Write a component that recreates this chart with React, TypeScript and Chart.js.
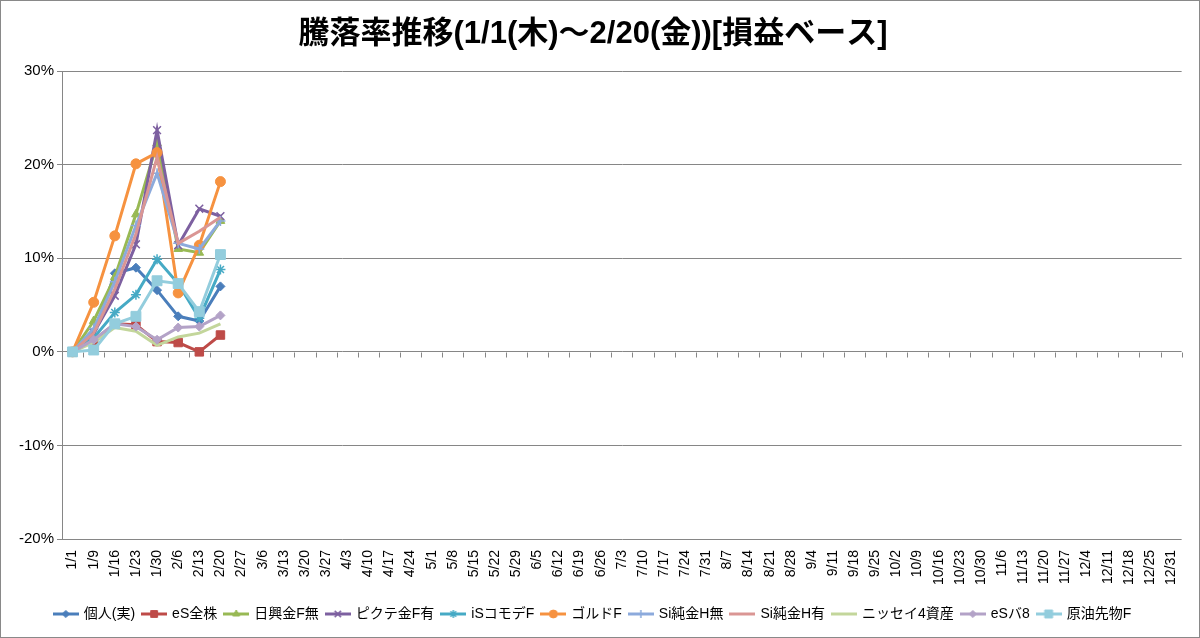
import { useEffect, useRef } from "react"
import { Chart, registerables, type ChartConfiguration, type Plugin } from "chart.js"
import { drawPoint } from "chart.js/helpers"

Chart.register(...registerables)

const FONT = "'Liberation Sans', 'Noto Sans CJK JP', sans-serif"

// weekly dates on the x axis
const dates = [
  "1/1", "1/9", "1/16", "1/23", "1/30", "2/6", "2/13", "2/20", "2/27",
  "3/6", "3/13", "3/20", "3/27", "4/3", "4/10", "4/17", "4/24", "5/1",
  "5/8", "5/15", "5/22", "5/29", "6/5", "6/12", "6/19", "6/26", "7/3",
  "7/10", "7/17", "7/24", "7/31", "8/7", "8/14", "8/21", "8/28", "9/4",
  "9/11", "9/18", "9/25", "10/2", "10/9", "10/16", "10/23", "10/30", "11/6",
  "11/13", "11/20", "11/27", "12/4", "12/11", "12/18", "12/25", "12/31",
]

const yTicks = [-20, -10, 0, 10, 20, 30]

// values in %, 1/1 .. 2/20
const kojin = [0, 1.8, 8.4, 9.0, 6.6, 3.8, 3.3, 7.0]
const esZenkabu = [0, 1.2, 3.0, 2.9, 1.1, 1.0, 0.0, 1.8]
const nikkoKinNashi = [0, 3.3, 8.0, 14.7, 22.3, 11.0, 10.6, 14.0]
const picteKinAri = [0, 2.0, 6.0, 11.5, 23.7, 11.4, 15.3, 14.5]
const isCommodity = [0, 1.5, 4.2, 6.1, 9.9, 7.3, 3.6, 8.8]
const goldF = [0, 5.3, 12.4, 20.1, 21.3, 6.3, 11.4, 18.2]
const siKinHNashi = [0, 2.5, 7.5, 13.5, 19.1, 11.6, 11.0, 14.0]
const siKinHAri = [0, 2.0, 6.7, 12.6, 20.8, 11.6, 12.9, 14.4]
const nissay4 = [0, 1.0, 2.6, 2.2, 0.7, 1.6, 2.0, 3.0]
const esBal8 = [0, 1.3, 3.0, 2.7, 1.3, 2.6, 2.7, 3.9]
const crudeOilF = [0, 0.2, 3.0, 3.8, 7.6, 7.3, 4.3, 10.4]

const seriesNames = [
  "個人(実)", "eS全株", "日興金F無", "ピクテ金F有", "iSコモデF", "ゴルドF",
  "Si純金H無", "Si純金H有", "ニッセイ4資産", "eSバ8", "原油先物F",
]
const seriesValues = [
  kojin, esZenkabu, nikkoKinNashi, picteKinAri, isCommodity, goldF,
  siKinHNashi, siKinHAri, nissay4, esBal8, crudeOilF,
]
const seriesColors = [
  "#4A7EBB", "#BE4B48", "#98B954", "#7D60A0", "#46AAC5", "#F69240",
  "#8CAADC", "#DA9694", "#C3D69B", "#B3A2C7", "#93CDDD",
]
const markerStyles = [
  "rectRot", "rect", "triangle", "crossRot", "star", "circle",
  "cross", "circle", "circle", "rectRot", "rect",
]
const markerSizes = [4.5, 6, 5, 5.5, 5, 5, 5, 0, 0, 4.5, 7]

const isStroked = (s: string) => s === "cross" || s === "star" || s === "crossRot"

// tick marks hanging under the 0% line, between the categories
const zeroAxisTicks: Plugin = {
  id: "zeroAxisTicks",
  beforeDatasetsDraw(chart) {
    const { ctx } = chart
    const xs = chart.scales.x
    const ys = chart.scales.y
    const y0 = Math.round(ys.getPixelForValue(0)) + 0.5
    const step = (xs.right - xs.left) / dates.length
    ctx.save()
    ctx.strokeStyle = "#868686"
    ctx.lineWidth = 1
    ctx.beginPath()
    for (let i = 1; i <= dates.length; i++) {
      const px = Math.round(xs.left + i * step) + 0.5
      ctx.moveTo(px, y0)
      ctx.lineTo(px, y0 + 5)
    }
    ctx.stroke()
    ctx.restore()
  },
}

function legendSample(i: number) {
  const c = document.createElement("canvas")
  c.width = 26
  c.height = 12
  const g = c.getContext("2d")!
  g.strokeStyle = seriesColors[i]
  g.lineWidth = 3
  g.beginPath()
  g.moveTo(0, 6)
  g.lineTo(26, 6)
  g.stroke()
  if (markerSizes[i] > 0) {
    g.fillStyle = seriesColors[i]
    g.lineWidth = isStroked(markerStyles[i]) ? 1.5 : 1
    drawPoint(g, { pointStyle: markerStyles[i] as any, radius: markerSizes[i] * 0.8, rotation: 0, borderWidth: 1 }, 13, 6)
  }
  return c
}

export default function App() {
  const chartRef = useRef<HTMLCanvasElement>(null)
  const chartInstance = useRef<Chart | null>(null)

  useEffect(() => {
    if (!chartRef.current) return
    if (chartInstance.current) chartInstance.current.destroy()
    const ctx = chartRef.current.getContext("2d")
    if (!ctx) return

    const samples = seriesNames.map((_, i) => legendSample(i))
    const n = seriesNames.length

    const config: ChartConfiguration<"line"> = {
      type: "line",
      data: {
        labels: dates,
        datasets: seriesNames.map((name, i) => ({
          label: name,
          data: seriesValues[i],
          borderColor: seriesColors[i],
          backgroundColor: seriesColors[i],
          borderWidth: 3,
          pointStyle: markerStyles[i] as any,
          pointRadius: markerSizes[i],
          pointHoverRadius: markerSizes[i],
          pointBackgroundColor: seriesColors[i],
          pointBorderColor: seriesColors[i],
          pointBorderWidth: isStroked(markerStyles[i]) ? 1.5 : 1,
          tension: 0,
          fill: false,
          order: n - i,
        })),
      },
      options: {
        responsive: false,
        animation: false,
        devicePixelRatio: 1,
        layout: { padding: { left: 0, right: 14, top: 0, bottom: 6 } },
        plugins: {
          title: {
            display: true,
            text: "騰落率推移(1/1(木)～2/20(金))[損益ベース]",
            color: "#000",
            font: { family: FONT, size: 31, weight: "bold" },
            padding: { top: 15, bottom: 18 },
          },
          legend: {
            position: "bottom",
            labels: {
              usePointStyle: true,
              pointStyleWidth: 22,
              color: "#000",
              font: { family: FONT, size: 14 },
              padding: 8,
              generateLabels: () =>
                seriesNames.map((name, i) => ({
                  text: name,
                  pointStyle: samples[i] as any,
                  fillStyle: seriesColors[i],
                  strokeStyle: seriesColors[i],
                  lineWidth: 0,
                  hidden: false,
                  datasetIndex: i,
                })),
            },
          },
          tooltip: { enabled: false },
        },
        scales: {
          x: {
            type: "category",
            offset: true,
            grid: { display: false, drawTicks: false },
            border: { display: false },
            ticks: {
              autoSkip: false,
              minRotation: 90,
              maxRotation: 90,
              color: "#000",
              font: { family: FONT, size: 14 },
              padding: 11,
            },
            afterFit: (s) => { s.height = 60 },
          },
          y: {
            min: yTicks[0],
            max: yTicks[yTicks.length - 1],
            afterBuildTicks: (s) => { s.ticks = yTicks.map((v) => ({ value: v })) },
            grid: { color: "#868686", lineWidth: 1, tickLength: 5 },
            border: { color: "#868686" },
            ticks: {
              color: "#000",
              font: { family: FONT, size: 15 },
              padding: 3,
              callback: (v) => `${v}%`,
            },
            afterFit: (s) => { s.width = 61 },
          },
        },
      },
      plugins: [zeroAxisTicks],
    }

    chartInstance.current = new Chart(ctx, config)

    return () => {
      if (chartInstance.current) {
        chartInstance.current.destroy()
        chartInstance.current = null
      }
    }
  }, [])

  return (
    <div
      style={{
        position: "absolute",
        left: 0,
        top: 0,
        width: 1200,
        height: 638,
        boxSizing: "border-box",
        border: "1px solid #898989",
        background: "#fff",
      }}
    >
      <canvas ref={chartRef} width={1198} height={636}></canvas>
    </div>
  )
}
